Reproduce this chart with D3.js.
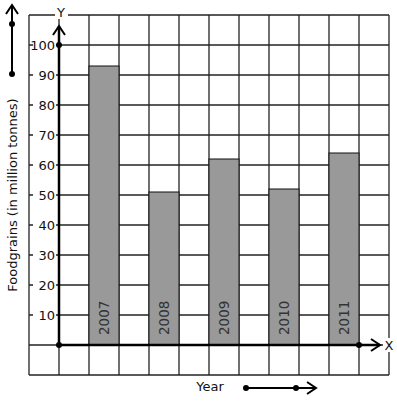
<!DOCTYPE html>
<html>
<head>
<meta charset="utf-8">
<script src="https://cdn.jsdelivr.net/npm/d3@7"></script>
<style>
  body { margin: 0; background: #fff; }
  text { font-family: "DejaVu Sans", sans-serif; }
</style>
</head>
<body>
<div id="chart"></div>
<script>
// chart data
var years = ["2007", "2008", "2009", "2010", "2011"];
var foodgrains = [93, 51, 62, 52, 64];
var yTicks = [10, 20, 30, 40, 50, 60, 70, 80, 90, 100];

var width = 397, height = 401;

var svg = d3.select("#chart").append("svg")
  .attr("width", width)
  .attr("height", height);

// grid cell = 10 units on y, one column on x
var x = d3.scaleLinear().domain([0, 12]).range([29, 389]);
var y = d3.scaleLinear().domain([0, 100]).range([345, 45]);

var gridColor = "#222";

// grid lines
var grid = svg.append("g");
d3.range(0, 13).forEach(function(i) {
  grid.append("line")
    .attr("x1", x(i)).attr("x2", x(i))
    .attr("y1", y(110)).attr("y2", y(-10))
    .attr("stroke", gridColor).attr("stroke-width", 1.3);
});
d3.range(-10, 111, 10).forEach(function(v) {
  grid.append("line")
    .attr("x1", x(0)).attr("x2", x(12))
    .attr("y1", y(v)).attr("y2", y(v))
    .attr("stroke", gridColor).attr("stroke-width", 1.3);
});

// bars
svg.selectAll(".bar")
  .data(foodgrains)
  .enter().append("rect")
  .attr("class", "bar")
  .attr("x", function(d, i) { return x(2 + 2 * i); })
  .attr("width", x(1) - x(0))
  .attr("y", function(d) { return y(d); })
  .attr("height", function(d) { return y(0) - y(d); })
  .attr("fill", "#999")
  .attr("stroke", "#111")
  .attr("stroke-width", 1);

// year labels inside bars
svg.selectAll(".yr")
  .data(years)
  .enter().append("text")
  .attr("class", "yr")
  .attr("transform", function(d, i) {
    return "translate(" + (x(2.5 + 2 * i) + 5) + "," + (y(0) - 10) + ") rotate(-90)";
  })
  .attr("font-size", 13.5)
  .attr("fill", "#333")
  .text(function(d) { return d; });

// y tick labels with white background
var ticks = svg.selectAll(".tick")
  .data(yTicks)
  .enter().append("g")
  .attr("class", "tick");
ticks.append("rect")
  .attr("x", 33)
  .attr("y", function(d) { return y(d) - 7; })
  .attr("width", 23)
  .attr("height", 14)
  .attr("fill", "#fff");
ticks.append("text")
  .attr("x", 55)
  .attr("y", function(d) { return y(d) + 4.5; })
  .attr("text-anchor", "end")
  .attr("font-size", 13)
  .attr("fill", "#111")
  .text(function(d) { return d; });

// axes
function arrowHead(g, tx, ty, dir) {
  var p = dir == "up"
    ? [[tx - 6, ty + 9], [tx, ty], [tx + 6, ty + 9]]
    : [[tx - 9, ty - 6], [tx, ty], [tx - 9, ty + 6]];
  g.append("path")
    .attr("d", d3.line()(p))
    .attr("fill", "none")
    .attr("stroke", "#000")
    .attr("stroke-width", 2);
}
function dot(g, cx, cy) {
  g.append("circle").attr("cx", cx).attr("cy", cy).attr("r", 3).attr("fill", "#000");
}

var axes = svg.append("g");
axes.append("line")
  .attr("x1", x(1)).attr("x2", x(1))
  .attr("y1", y(0)).attr("y2", 26)
  .attr("stroke", "#000").attr("stroke-width", 2.5);
arrowHead(axes, x(1), 26, "up");
axes.append("line")
  .attr("x1", x(1)).attr("x2", 380)
  .attr("y1", y(0)).attr("y2", y(0))
  .attr("stroke", "#000").attr("stroke-width", 2.5);
arrowHead(axes, 380, y(0), "right");
dot(axes, x(1), y(0));
dot(axes, x(1), y(100));
dot(axes, x(11), y(0));

// axis letters
svg.append("rect").attr("x", 55).attr("y", 5).attr("width", 13).attr("height", 14).attr("fill", "#fff");
svg.append("text").attr("x", 61).attr("y", 17).attr("text-anchor", "middle")
  .attr("font-size", 13).attr("fill", "#111").text("Y");
svg.append("rect").attr("x", 383).attr("y", y(0) - 7).attr("width", 12).attr("height", 14).attr("fill", "#fff");
svg.append("text").attr("x", 389).attr("y", y(0) + 4.5).attr("text-anchor", "middle")
  .attr("font-size", 13).attr("fill", "#111").text("X");

// axis titles with side arrows
svg.append("text")
  .attr("transform", "translate(17,195) rotate(-90)")
  .attr("text-anchor", "middle")
  .attr("font-size", 13)
  .attr("fill", "#111")
  .text("Foodgrains (in million tonnes)");

var side = svg.append("g");
side.append("line").attr("x1", 12).attr("x2", 12).attr("y1", 74).attr("y2", 5)
  .attr("stroke", "#000").attr("stroke-width", 2);
arrowHead(side, 12, 5, "up");
dot(side, 12, 24);
dot(side, 12, 74);

svg.append("text")
  .attr("x", 210).attr("y", 391)
  .attr("text-anchor", "middle")
  .attr("font-size", 13)
  .attr("fill", "#111")
  .text("Year");

var bottom = svg.append("g");
bottom.append("line").attr("x1", 246).attr("x2", 316).attr("y1", 388).attr("y2", 388)
  .attr("stroke", "#000").attr("stroke-width", 2);
arrowHead(bottom, 316, 388, "right");
dot(bottom, 246, 388);
dot(bottom, 296, 388);
</script>
</body>
</html>
